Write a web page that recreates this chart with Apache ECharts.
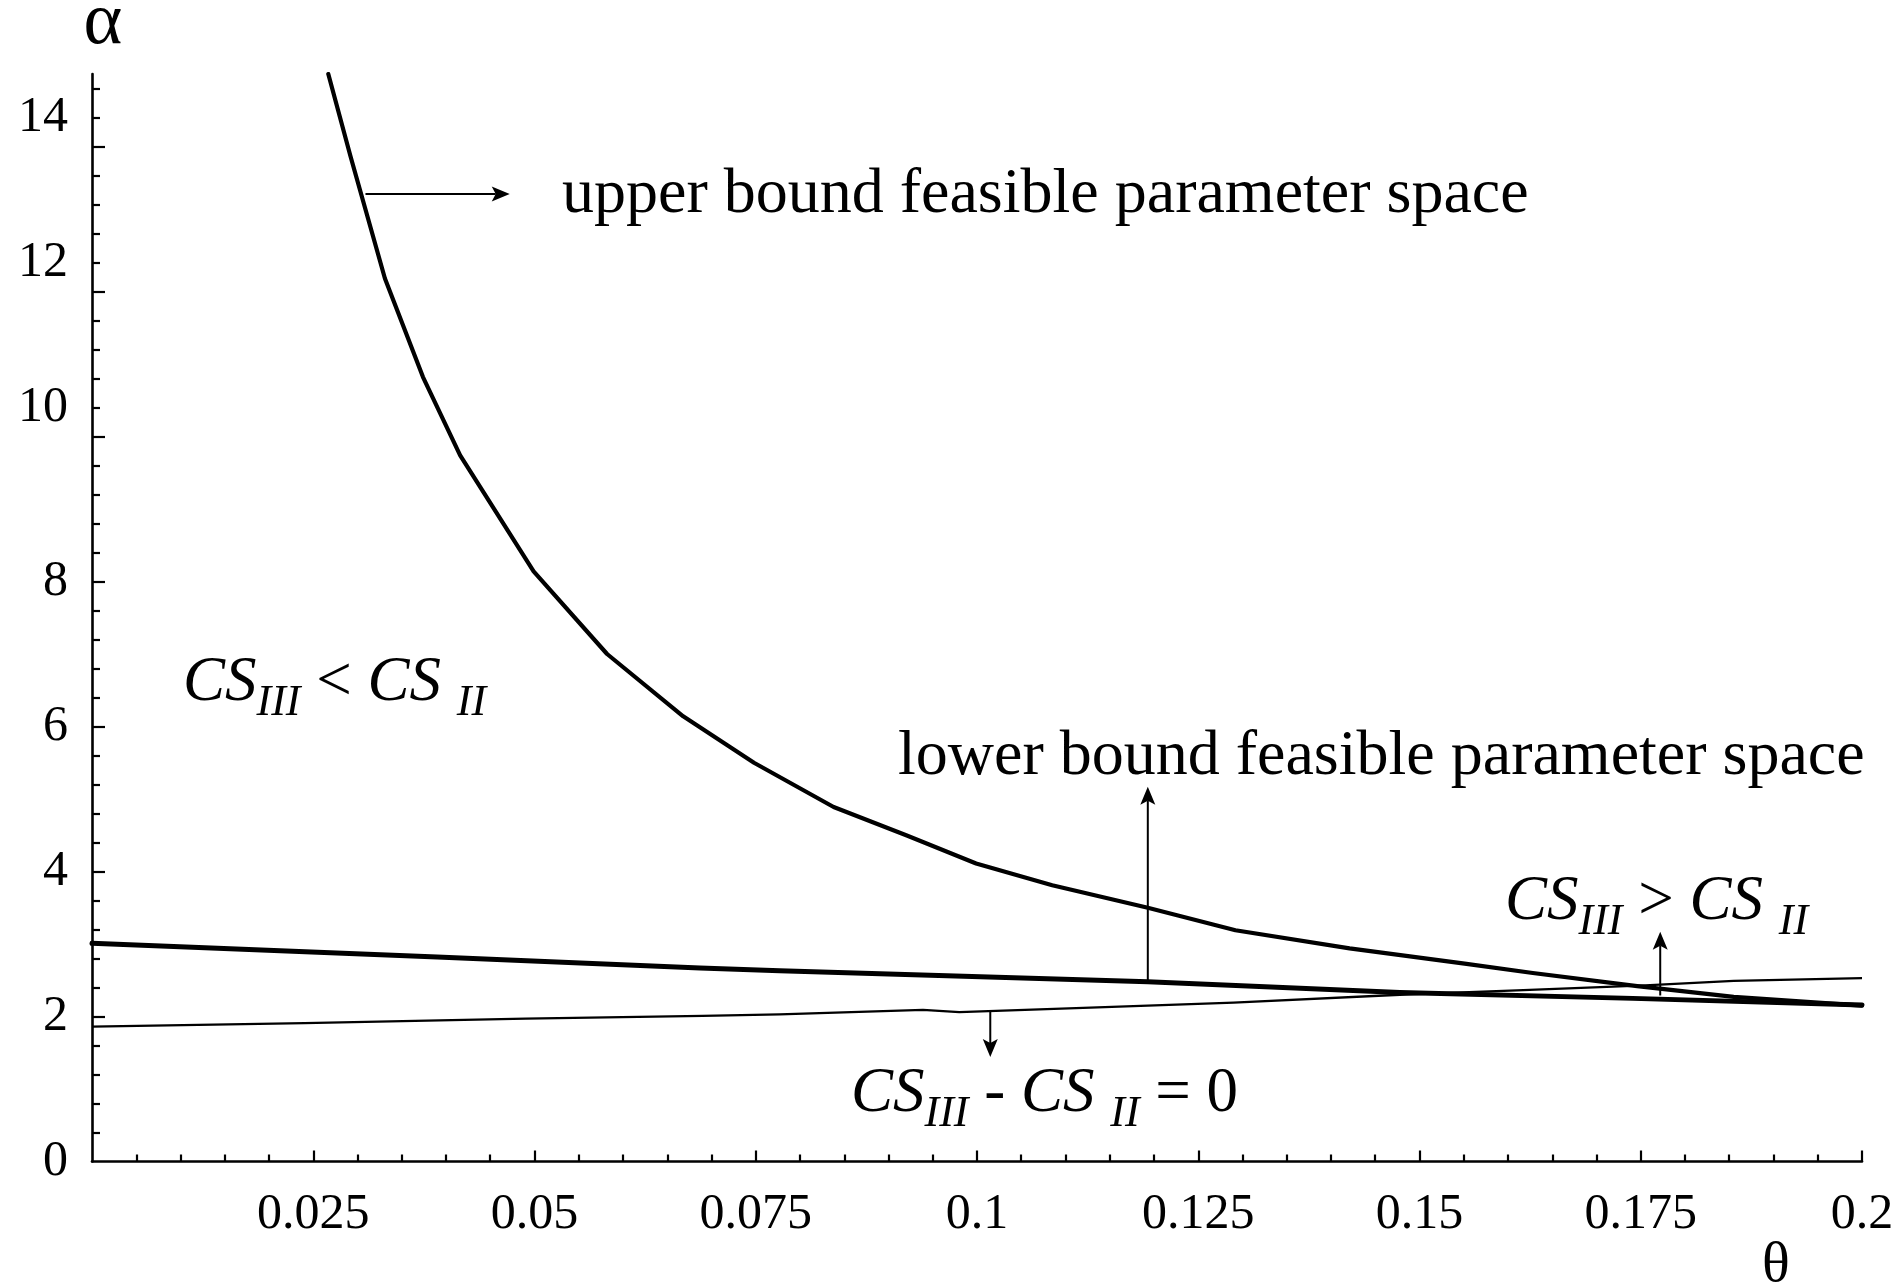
<!DOCTYPE html>
<html>
<head>
<meta charset="utf-8">
<title>Feasible parameter space</title>
<script src="https://cdn.jsdelivr.net/npm/echarts@6/dist/echarts.min.js"></script>
<style>
  html, body { margin: 0; padding: 0; background: #fff; }
  #chart { width: 1903px; height: 1287px; }
</style>
</head>
<body>
<div id="chart"></div>
<script>
// === Data (theta on x, alpha on y) ===
const upperTheta = [0.0267, 0.0292, 0.0331, 0.0374, 0.0416, 0.0499, 0.0582, 0.0668, 0.0748, 0.0838, 0.0920, 0.0999, 0.1085, 0.1193, 0.1292, 0.1421, 0.1551, 0.1628, 0.1746, 0.1855, 0.2];
const upperAlpha = [15.0, 13.87, 12.18, 10.82, 9.74, 8.14, 7.00, 6.14, 5.50, 4.89, 4.50, 4.11, 3.81, 3.50, 3.19, 2.94, 2.73, 2.60, 2.42, 2.27, 2.15];

const lowerTheta = [0, 0.039, 0.0687, 0.0777, 0.1193, 0.1478, 0.1741, 0.2];
const lowerAlpha = [3.01, 2.82, 2.67, 2.63, 2.48, 2.33, 2.25, 2.16];

const zeroTheta = [0, 0.024, 0.049, 0.069, 0.0777, 0.0939, 0.098, 0.112, 0.129, 0.1478, 0.161, 0.1755, 0.1855, 0.2];
const zeroAlpha = [1.86, 1.91, 1.97, 2.01, 2.03, 2.09, 2.06, 2.12, 2.19, 2.30, 2.36, 2.43, 2.49, 2.53];

// arrows: [fromTheta, fromAlpha, toTheta, toAlpha]
const arrowSegments = [
    [0.0309, 13.345, 0.0472, 13.345],
    [0.1193, 2.48, 0.1193, 5.17],
    [0.1015, 2.07, 0.1015, 1.44],
    [0.1772, 2.29, 0.1772, 3.17]
];

// tick marks and labels
const xMajorTicks = [0.025, 0.05, 0.075, 0.1, 0.125, 0.15, 0.175, 0.2];
const xTickLabels = ["0.025", "0.05", "0.075", "0.1", "0.125", "0.15", "0.175", "0.2"];
const yMajorTicks = [2, 4, 6, 8, 10, 12, 14];
const yLabelValues = [0, 2, 4, 6, 8, 10.4, 12.4, 14.4];
const yLabelTexts = ["0", "2", "4", "6", "8", "10", "12", "14"];

// minor ticks: every 0.005 on theta, every 0.4 on alpha
const xMinorTicks = [];
for (let k = 1; k < 40; k++) if (k % 5) xMinorTicks.push(+(k * 0.005).toFixed(3));
const yMinorTicks = [];
for (let k = 1; k <= 37; k++) if (k % 5) yMinorTicks.push(+(k * 0.4).toFixed(1));

const serif = '"Liberation Serif", "Times New Roman", serif';
const zip = (xs, ys) => xs.map((x, i) => [x, ys[i]]);
const pick = (vals, texts) => v => {
    const i = vals.findIndex(t => Math.abs(t - v) < 1e-6);
    return i >= 0 ? texts[i] : "";
};

const chart = echarts.init(document.getElementById("chart"));

function renderArrow(params, api) {
    const from = api.coord([api.value(0), api.value(1)]);
    const to = api.coord([api.value(2), api.value(3)]);
    const dx = to[0] - from[0], dy = to[1] - from[1];
    const len = Math.sqrt(dx * dx + dy * dy);
    const ux = dx / len, uy = dy / len;
    const headLen = 18, headHalf = 7.5, notch = 4;
    const bx = to[0] - ux * headLen, by = to[1] - uy * headLen;
    const nx = bx + ux * notch, ny = by + uy * notch;
    return {
        type: "group",
        children: [
            { type: "line", shape: { x1: from[0], y1: from[1], x2: nx, y2: ny }, style: { stroke: "#000", lineWidth: 2 } },
            {
                type: "polygon",
                shape: { points: [to, [bx - uy * headHalf, by + ux * headHalf], [nx, ny], [bx + uy * headHalf, by - ux * headHalf]] },
                style: { fill: "#000" }
            }
        ]
    };
}

// rich text styles for the CS labels
const csRich = {
    i: { fontFamily: serif, fontStyle: "italic", fontSize: 63, lineHeight: 62, verticalAlign: "top", color: "#000" },
    u: { fontFamily: serif, fontSize: 63, lineHeight: 62, verticalAlign: "top", color: "#000" },
    s: { fontFamily: serif, fontStyle: "italic", fontSize: 44, lineHeight: 44, verticalAlign: "top", padding: [29, 0, 0, 0], color: "#000" }
};

function csText(x, y, text) {
    return {
        type: "text", x: x, y: y, silent: true,
        style: { text: text, rich: csRich, align: "left", verticalAlign: "top", fill: "#000" }
    };
}

function plainText(x, y, text, size, align) {
    return {
        type: "text", x: x, y: y, silent: true,
        style: { text: text, font: size + "px " + serif, align: align, verticalAlign: "middle", fill: "#000" }
    };
}

const axisCommon = {
    splitLine: { show: false },
    axisPointer: { show: false }
};

const option = {
    backgroundColor: "#fff",
    animation: false,
    grid: { left: 92, right: 41, top: 74, bottom: 125.5, containLabel: false },
    xAxis: [
        {
            ...axisCommon,
            type: "value", position: "bottom", min: 0, max: 0.2,
            axisLine: { show: true, onZero: false, lineStyle: { color: "#000", width: 2.6 } },
            axisTick: { show: true, inside: true, length: 11, customValues: xMajorTicks, lineStyle: { color: "#000", width: 2.2 } },
            axisLabel: {
                show: true, customValues: xMajorTicks, formatter: pick(xMajorTicks, xTickLabels),
                margin: 28, color: "#000", fontFamily: serif, fontSize: 50
            }
        },
        {
            ...axisCommon,
            type: "value", position: "bottom", min: 0, max: 0.2,
            axisLine: { show: false, onZero: false },
            axisTick: { show: true, inside: true, length: 7, customValues: xMinorTicks, lineStyle: { color: "#000", width: 2.2 } },
            axisLabel: { show: false }
        }
    ],
    yAxis: [
        {
            ...axisCommon,
            type: "value", position: "left", min: 0, max: 15,
            axisLine: { show: true, onZero: false, lineStyle: { color: "#000", width: 2.6 } },
            axisTick: { show: true, inside: true, length: 13, customValues: yMajorTicks, lineStyle: { color: "#000", width: 2.2 } },
            axisLabel: {
                show: true, customValues: yLabelValues, formatter: pick(yLabelValues, yLabelTexts),
                margin: 24, color: "#000", fontFamily: serif, fontSize: 50
            }
        },
        {
            ...axisCommon,
            type: "value", position: "left", min: 0, max: 15,
            axisLine: { show: false, onZero: false },
            axisTick: { show: true, inside: true, length: 8, customValues: yMinorTicks, lineStyle: { color: "#000", width: 2.2 } },
            axisLabel: { show: false }
        }
    ],
    series: [
        {
            name: "upper bound", type: "line", data: zip(upperTheta, upperAlpha),
            symbol: "none", smooth: false, clip: true,
            lineStyle: { color: "#000", width: 4.2, cap: "round", join: "round" }
        },
        {
            name: "lower bound", type: "line", data: zip(lowerTheta, lowerAlpha),
            symbol: "none", smooth: false,
            lineStyle: { color: "#000", width: 5, cap: "round", join: "round" }
        },
        {
            name: "CS difference zero", type: "line", data: zip(zeroTheta, zeroAlpha),
            symbol: "none", smooth: false,
            lineStyle: { color: "#000", width: 2.3, join: "round" }
        },
        {
            name: "arrows", type: "custom", renderItem: renderArrow,
            data: arrowSegments, encode: { x: [0, 2], y: [1, 3] }, silent: true
        }
    ],
    graphic: [
        plainText(103, 24, "\u03b1", 74, "center"),
        plainText(1776, 1266, "\u03b8", 58, "center"),
        plainText(562, 195, "upper bound feasible parameter space", 64, "left"),
        plainText(898, 757, "lower bound feasible parameter space", 64, "left"),
        csText(183, 652, "{i|CS}{s|III}{u| < }{i|CS }{s|II}"),
        csText(1505, 871, "{i|CS}{s|III}{u| > }{i|CS }{s|II}"),
        csText(851, 1063, "{i|CS}{s|III}{u| - }{i|CS }{s|II}{u| = 0}")
    ]
};

chart.setOption(option);
window.addEventListener("resize", () => chart.resize());
</script>
</body>
</html>
